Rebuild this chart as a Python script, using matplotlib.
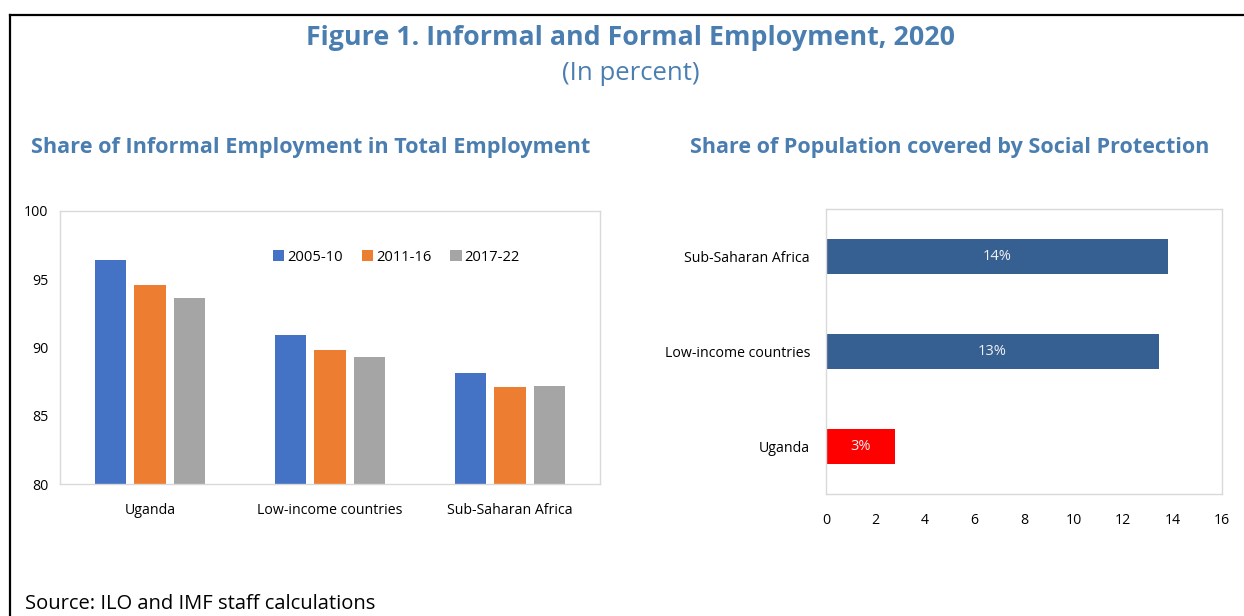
import matplotlib
matplotlib.use("Agg")
import matplotlib.pyplot as plt
from matplotlib.lines import Line2D
import numpy as np

plt.rcParams['font.family'] = ['Open Sans', 'DejaVu Sans']

# Left panel: informal employment share by period
regions = ["Uganda", "Low-income countries", "Sub-Saharan Africa"]
periods = ["2005-10", "2011-16", "2017-22"]
share_2005_10 = [96.4, 90.9, 88.1]
share_2011_16 = [94.6, 89.8, 87.1]
share_2017_22 = [93.6, 89.3, 87.2]

# Right panel: social protection coverage
sp_regions = ["Uganda", "Low-income countries", "Sub-Saharan Africa"]
sp_coverage = [2.8, 13.45, 13.8]
sp_ticks = [0, 2, 4, 6, 8, 10, 12, 14, 16]

TITLE_BLUE = "#4A7EB0"
W, H = 1244, 616

fig = plt.figure(figsize=(W / 100, H / 100), dpi=100)

# frame lines (top and left)
fig.add_artist(Line2D([10 / W, 1], [1 - 15 / H, 1 - 15 / H], color="black", lw=1.6))
fig.add_artist(Line2D([10 / W, 10 / W], [0, 1 - 15 / H], color="black", lw=1.6))

fig.text(631 / W, 1 - 38 / H, "Figure 1. Informal and Formal Employment, 2020",
         ha="center", va="center", fontsize=19.3, fontweight="bold", color=TITLE_BLUE)
fig.text(631 / W, 1 - 74 / H, "(In percent)", ha="center", va="center",
         fontsize=18.5, color=TITLE_BLUE)
fig.text(311 / W, 1 - 148 / H, "Share of Informal Employment in Total Employment",
         ha="center", va="center", fontsize=15.6, fontweight="bold", color=TITLE_BLUE)
fig.text(950 / W, 1 - 147 / H, "Share of Population covered by Social Protection",
         ha="center", va="center", fontsize=15.5, fontweight="bold", color=TITLE_BLUE)
fig.text(25 / W, 1 - 604 / H, "Source: ILO and IMF staff calculations",
         ha="left", va="center", fontsize=14.5, color="black")

GRID_GREY = "#D9D9D9"

# ---- left panel ----
ax1 = fig.add_axes([60 / W, (H - 484) / H, 540 / W, 273 / H])
x = np.arange(len(regions))
bw = 0.175
step = 0.22
series = [share_2005_10, share_2011_16, share_2017_22]
colors = ["#4472C4", "#ED7D31", "#A5A5A5"]
for i, (vals, col, lab) in enumerate(zip(series, colors, periods)):
    ax1.bar(x + (i - 1) * step, vals, width=bw, color=col, label=lab, zorder=2)
ax1.set_ylim(80, 100)
ax1.set_xlim(-0.5, 2.5)
ax1.set_yticks([80, 85, 90, 95, 100])
ax1.set_xticks(x)
ax1.set_xticklabels(regions)
ax1.tick_params(length=0, labelsize=10.2, colors="black")
ax1.tick_params(axis="y", pad=8.6)
ax1.tick_params(axis="x", pad=14)
for s in ax1.spines.values():
    s.set_color(GRID_GREY)
    s.set_linewidth(1.0)
leg = ax1.legend(loc="center left", bbox_to_anchor=(0.384, 0.83), ncol=3, frameon=False,
                 handlelength=0.75, handleheight=0.75, handletextpad=0.2,
                 columnspacing=1.3, fontsize=10.6, borderaxespad=0)

# ---- right panel ----
ax2 = fig.add_axes([826 / W, (H - 494) / H, 396 / W, 285 / H])
y = np.arange(len(sp_regions))
bar_colors = ["#FF0000", "#366092", "#366092"]
bars = ax2.barh(y, sp_coverage, height=0.36, color=bar_colors, zorder=2)
for yi, v in zip(y, sp_coverage):
    ax2.text(v / 2, yi, f"{v:.0f}%", ha="center", va="center", color="#F2F2F2", fontsize=10.5)
ax2.set_xlim(0, 16)
ax2.set_ylim(-0.5, 2.5)
ax2.set_xticks(sp_ticks)
ax2.set_yticks(y)
ax2.set_yticklabels(sp_regions)
ax2.tick_params(length=0, labelsize=10.2, colors="black")
ax2.tick_params(axis="x", pad=14)
ax2.tick_params(axis="y", pad=11.5)
for s in ax2.spines.values():
    s.set_color(GRID_GREY)
    s.set_linewidth(1.0)

fig.savefig("out.png", dpi=100, facecolor="white")
